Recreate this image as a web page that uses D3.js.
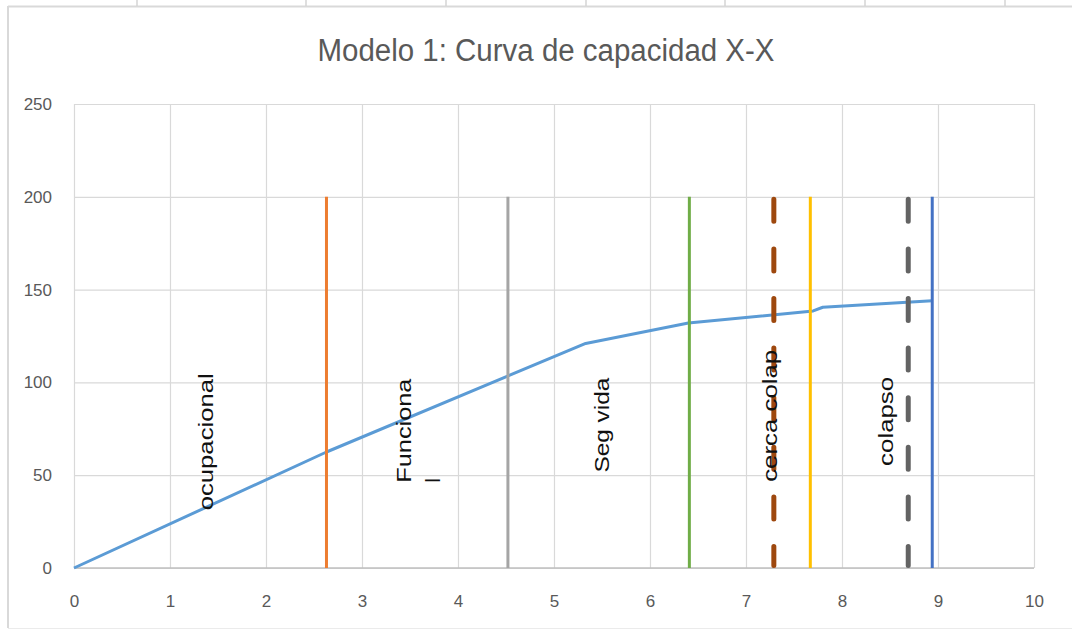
<!DOCTYPE html>
<html>
<head>
<meta charset="utf-8">
<script src="https://cdn.jsdelivr.net/npm/d3@7"></script>
<style>
  html, body { margin: 0; padding: 0; background: #fff; }
  svg { display: block; }
  text { font-family: "Liberation Sans", Arial, sans-serif; }
</style>
</head>
<body>
<svg id="chart" width="1072" height="630"></svg>
<script>
// Capacity curve: displacement (x) vs base shear (y)
const curveX = [0, 2.63, 5.33, 6.4, 7.7, 7.8, 8.94];
const curveY = [0, 62.5, 121, 132, 138.5, 140.5, 144];

// Performance limit markers (vertical lines from 0 to 200)
const limitX      = [2.63, 4.52, 6.41, 7.29, 7.67, 8.69, 8.94];
const limitTop    = [200, 200, 200, 200, 200, 200, 200];
const limitColors = ["#ED7D31", "#A5A5A5", "#70AD47", "#9E480E", "#FFC000", "#636363", "#4472C4"];
const limitDashed = [false, false, false, true, false, true, false];

// Zone labels (rotated), positioned in data units
const zoneText = [["ocupacional"], ["Funciona", "l"], ["Seg vida"], ["cerca colap"], ["colapso"]];
const zoneX    = [1.37, 3.43, 5.49, 7.24, 8.45];
const zoneY    = [68, 74, 77, 82, 79];

const xTicks = [0, 1, 2, 3, 4, 5, 6, 7, 8, 9, 10];
const yTicks = [0, 50, 100, 150, 200, 250];
const title = "Modelo 1: Curva de capacidad X-X";

const svg = d3.select("#chart");
const W = 1072, H = 630;
const plotL = 74, plotR = 1034, plotT = 104, plotB = 568;

const x = d3.scaleLinear().domain([0, 10]).range([plotL, plotR]);
const y = d3.scaleLinear().domain([0, 250]).range([plotB, plotT]);

// Sheet frame around the chart object
const frame = svg.append("g");
frame.append("line").attr("x1", 8).attr("x2", W).attr("y1", 6.5).attr("y2", 6.5)
  .attr("stroke", "#D9D9D9").attr("stroke-width", 2);
frame.append("line").attr("x1", 8).attr("x2", 8).attr("y1", 6).attr("y2", 628)
  .attr("stroke", "#D9D9D9").attr("stroke-width", 2);
frame.append("line").attr("x1", 8).attr("x2", W).attr("y1", 628.5).attr("y2", 628.5)
  .attr("stroke", "#EBEBEB").attr("stroke-width", 1);
[137, 306, 446, 586, 725, 865, 1005].forEach(px => {
  frame.append("line").attr("x1", px).attr("x2", px).attr("y1", 0).attr("y2", 6)
    .attr("stroke", "#D4D4D4").attr("stroke-width", 1.5);
});

// Gridlines
svg.append("g")
  .attr("transform", `translate(0,${plotB})`)
  .call(d3.axisBottom(x).tickValues(xTicks).tickSize(-(plotB - plotT)).tickFormat(""))
  .call(g => g.select(".domain").remove())
  .call(g => g.selectAll(".tick line").attr("stroke", "#D9D9D9").attr("stroke-width", 1.2));
svg.append("g")
  .attr("transform", `translate(${plotL},0)`)
  .call(d3.axisLeft(y).tickValues(yTicks).tickSize(-(plotR - plotL)).tickFormat(""))
  .call(g => g.select(".domain").remove())
  .call(g => g.selectAll(".tick line").attr("stroke", "#D9D9D9").attr("stroke-width", 1.2));

// Horizontal axis baseline
svg.append("line").attr("x1", plotL).attr("x2", plotR).attr("y1", y(0)).attr("y2", y(0))
  .attr("stroke", "#BFBFBF").attr("stroke-width", 1.4);

// Tick labels
const tickFont = '"Liberation Sans", Arial, sans-serif';
svg.append("g")
  .attr("transform", `translate(0,${plotB})`)
  .call(d3.axisBottom(x).tickValues(xTicks).tickSize(0).tickPadding(27).tickFormat(d3.format("d")))
  .call(g => g.select(".domain").remove())
  .call(g => g.selectAll("text").attr("fill", "#595959").style("font-size", "17px")
    .style("font-family", tickFont));
svg.append("g")
  .attr("transform", `translate(${plotL},0)`)
  .call(d3.axisLeft(y).tickValues(yTicks).tickSize(0).tickPadding(22).tickFormat(d3.format("d")))
  .call(g => g.select(".domain").remove())
  .call(g => g.selectAll("text").attr("fill", "#595959").style("font-size", "17px")
    .style("font-family", tickFont));

// Capacity curve
const curve = d3.zip(curveX, curveY);
svg.append("path")
  .datum(curve)
  .attr("fill", "none")
  .attr("stroke", "#5B9BD5")
  .attr("stroke-width", 3)
  .attr("stroke-linejoin", "round")
  .attr("d", d3.line().x(d => x(d[0])).y(d => y(d[1])));

// Limit lines
limitX.forEach((lx, i) => {
  const ln = svg.append("line")
    .attr("x1", x(lx)).attr("x2", x(lx))
    .attr("y1", y(limitTop[i])).attr("y2", y(0))
    .attr("stroke", limitColors[i])
    .attr("stroke-width", limitDashed[i] ? 5 : 3);
  if (limitDashed[i]) {
    ln.attr("stroke-dasharray", "22 27.6").attr("stroke-linecap", "round")
      .attr("y1", y(limitTop[i]) + 2.5).attr("y2", y(0) - 2.5);
  }
});

// Zone labels: rotated text, stretched along its run to the label box length
const zoneLen = [137, 104, 95, 132, 89];
zoneText.forEach((lines, i) => {
  const px = x(zoneX[i]), py = y(zoneY[i]);
  const g = svg.append("g").attr("transform", `translate(${px},${py}) rotate(-90)`);
  g.append("text")
    .attr("text-anchor", "middle")
    .attr("dominant-baseline", "central")
    .attr("fill", "#111")
    .attr("textLength", zoneLen[i])
    .attr("lengthAdjust", "spacingAndGlyphs")
    .style("font-size", "21px")
    .text(lines[0]);
  if (lines.length > 1) {
    g.append("text")
      .attr("x", -zoneLen[i] / 2).attr("y", 29)
      .attr("text-anchor", "start")
      .attr("dominant-baseline", "central")
      .attr("fill", "#111")
      .style("font-size", "21px")
      .text(lines[1]);
  }
});

// Title
svg.append("text")
  .attr("x", 546).attr("y", 61)
  .attr("text-anchor", "middle")
  .attr("fill", "#595959")
  .attr("textLength", 457)
  .attr("lengthAdjust", "spacingAndGlyphs")
  .style("font-size", "31px")
  .text(title);
</script>
</body>
</html>
